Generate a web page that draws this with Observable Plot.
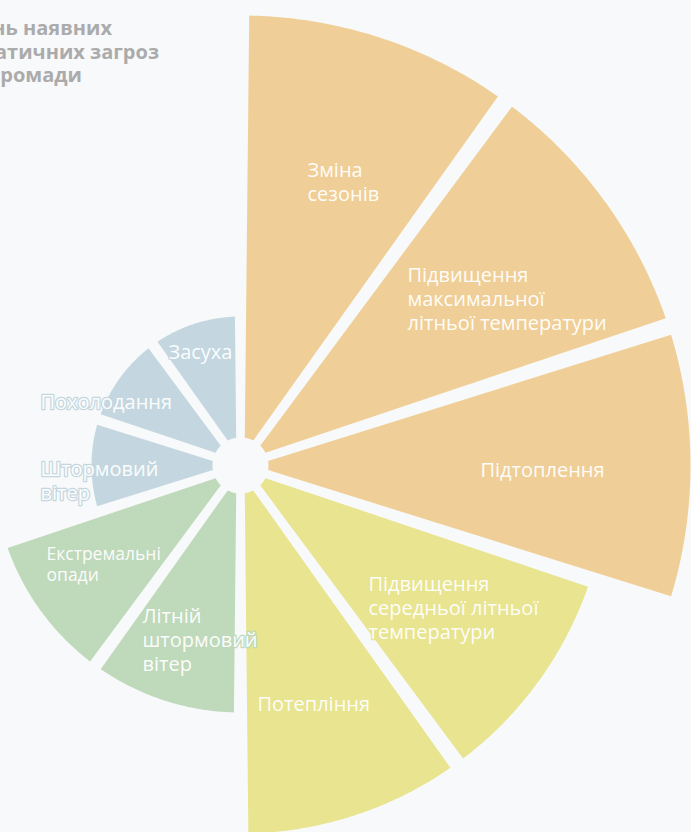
<!DOCTYPE html>
<html>
<head>
<meta charset="utf-8">
<script src="https://cdn.jsdelivr.net/npm/d3@7"></script>
<script src="https://cdn.jsdelivr.net/npm/@observablehq/plot@0.6"></script>
<style>
html, body { margin: 0; padding: 0; background: #f8f9fa; overflow: hidden; width: 691px; height: 832px; }
#wrap { position: relative; width: 691px; height: 832px; }
#wrap svg { position: absolute; left: 0; top: 0; }
.t { position: absolute; font-family: "Open Sans", sans-serif; font-weight: 700; font-size: 20px; line-height: 20px; color: #ababab; white-space: nowrap; text-align: right; }
</style>
</head>
<body>
<div id="wrap"></div>
<script>
// ---- data ----
const categories = [
  "Зміна сезонів",
  "Підвищення максимальної літньої температури",
  "Підтоплення",
  "Підвищення середньої літньої температури",
  "Потепління",
  "Літній штормовий вітер",
  "Екстремальні опади",
  "Штормовий вітер",
  "Похолодання",
  "Засуха"
];
const labels = [
  "Зміна\nсезонів",
  "Підвищення\nмаксимальної\nлітньої температури",
  "Підтоплення",
  "Підвищення\nсередньої літньої\nтемператури",
  "Потепління",
  "Літній\nштормовий\nвітер",
  "Екстремальні\nопади",
  "Штормовий\nвітер",
  "Похолодання",
  "Засуха"
];
const levels = ["high", "high", "high", "elevated", "elevated", "moderate", "moderate", "low", "low", "low"];
const values = [4.5, 4.5, 4.5, 3.68, 3.68, 2.47, 2.47, 1.49, 1.49, 1.49];
const titleLines = ["Рівень наявних", "кліматичних загроз", "громади"];

// ---- layout (pixels relative to chart centre: label left edge, first baseline, font size) ----
const labelLayout = [
  [67, -292, 20], [167, -187, 20], [240, 8, 20], [128, 122, 20], [17, 242, 20],
  [-98, 154, 20], [-194, 92, 17.5], [-200, 7, 20], [-200, -60, 20], [-72, -110, 20]
];
const W = 691, H = 832, CX = 240, CY = 465, PX = 100; // 1 value unit = 100 px
const hole = 0.28, halfGap = 0.04, padDeg = 0.6;

// ---- wedge geometry computed from data ----
const n = categories.length, step = 2 * Math.PI / n, pad = padDeg * Math.PI / 180;
const poly = [];
categories.forEach((c, i) => {
  const a0 = i * step + pad, a1 = (i + 1) * step - pad, R = values[i];
  const o0 = a0 + Math.asin(halfGap / R), o1 = a1 - Math.asin(halfGap / R);
  const i0 = a0 + Math.asin(halfGap / hole), i1 = a1 - Math.asin(halfGap / hole);
  const N = 60;
  for (let k = 0; k <= N; k++) {
    const a = o0 + (o1 - o0) * k / N;
    poly.push({cat: c, level: levels[i], x: R * Math.sin(a), y: R * Math.cos(a)});
  }
  for (let k = 8; k >= 0; k--) {
    const a = i0 + (i1 - i0) * k / 8;
    poly.push({cat: c, level: levels[i], x: hole * Math.sin(a), y: hole * Math.cos(a)});
  }
});

const textMarks = labels.map((lab, i) => {
  const [lx, ly, fs] = labelLayout[i];
  const top = ly - 0.71 * fs;
  return Plot.text([{lab, level: levels[i]}], {
    x: () => lx / PX, y: () => -top / PX, text: "lab",
    textAnchor: "start", lineAnchor: "top", lineHeight: fs < 18 ? 1.2 : 1.22,
    fontSize: fs, fontFamily: "Open Sans", fill: "#ffffff", fillOpacity: 0.96,
    stroke: "level", strokeWidth: 2.5, paintOrder: "stroke"
  });
});

const chart = Plot.plot({
  width: W, height: H, margin: 0,
  x: {domain: [-CX / PX, (W - CX) / PX], axis: null},
  y: {domain: [-(H - CY) / PX, CY / PX], axis: null},
  color: {domain: ["high", "elevated", "moderate", "low"], range: ["#efcf97", "#e8e48f", "#bfd9bb", "#c4d7e0"]},
  style: {background: "transparent", overflow: "hidden"},
  marks: [
    Plot.line(poly, {x: "x", y: "y", z: "cat", fill: "level", stroke: "none", curve: "linear-closed"}),
    ...textMarks
  ]
});
const wrap = document.getElementById("wrap");
wrap.appendChild(chart);

// title (cropped at the left edge as in the reference)
const rightEnds = [112, 159, 82], tops = [18, 42, 65];
titleLines.forEach((t, i) => {
  const d = document.createElement("div");
  d.className = "t";
  d.textContent = t;
  d.style.right = (W - rightEnds[i]) + "px";
  d.style.top = tops[i] + "px";
  wrap.appendChild(d);
});
</script>
</body>
</html>
